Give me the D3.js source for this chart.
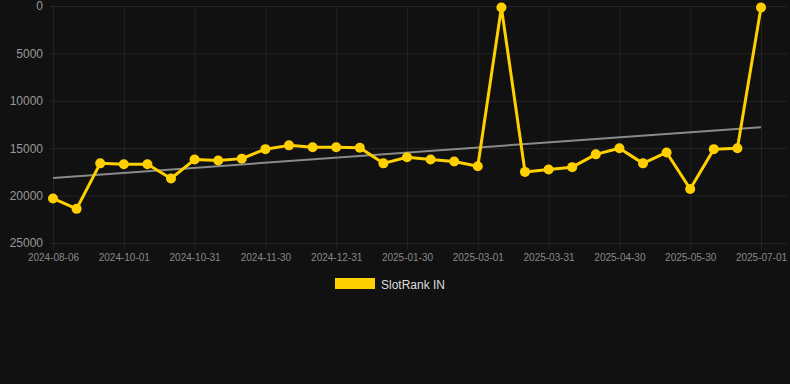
<!DOCTYPE html>
<html>
<head>
<meta charset="utf-8">
<script src="https://cdn.jsdelivr.net/npm/d3@7"></script>
<style>
  body { margin: 0; background: #111111; }
  svg { display: block; font-family: "Liberation Sans", Arial, sans-serif; }
</style>
</head>
<body>
<svg id="chart" width="790" height="384"></svg>
<script>
const dates = ["2024-08-06","2024-09-11","2024-09-21","2024-10-01","2024-10-11","2024-10-21","2024-10-31","2024-11-10","2024-11-20","2024-11-30",
  "2024-12-10","2024-12-20","2024-12-31","2025-01-10","2025-01-20","2025-01-30","2025-02-09","2025-02-19","2025-03-01","2025-03-11",
  "2025-03-21","2025-03-31","2025-04-10","2025-04-20","2025-04-30","2025-05-10","2025-05-20","2025-05-30","2025-06-11","2025-06-21","2025-07-01"]
const ranks = [20300,21400,16600,16700,16700,18200,16200,16300,16100,15100,
  14700,14900,14900,14950,16600,15950,16200,16400,16900,150,
  17500,17250,17000,15650,15000,16600,15450,19300,15100,15000,150]
const yTicks = [0,5000,10000,15000,20000,25000]
const seriesName = "SlotRank IN"

const svg = d3.select("#chart")
const gold = "#ffd000"

const x = d3.scalePoint().domain(dates).range([53, 761])
const y = d3.scaleLinear().domain([0, 25000]).range([6, 243])

// y axis + horizontal grid
const yAxis = svg.append("g")
  .attr("transform", "translate(50,0)")
  .call(d3.axisLeft(y).tickValues(yTicks).tickFormat(d3.format("d")).tickSize(-737).tickPadding(7))
yAxis.select(".domain").remove()
yAxis.selectAll(".tick line").attr("stroke", "#262626")
yAxis.selectAll(".tick text").attr("fill", "#999").style("font-size", "12px")

// x axis + vertical grid, labels every third point
const xAxis = svg.append("g")
  .attr("transform", "translate(0,250)")
  .call(d3.axisBottom(x).tickValues(dates.filter((d, i) => i % 3 == 0)).tickSize(-244).tickPadding(4))
xAxis.select(".domain").remove()
xAxis.selectAll(".tick line").attr("stroke", "#222")
xAxis.selectAll(".tick text").attr("fill", "#888").style("font-size", "10px")

// least squares trend line
const n = ranks.length
const mx = d3.mean(ranks, (d, i) => i), my = d3.mean(ranks)
const slope = d3.sum(ranks, (d, i) => (i - mx) * (d - my)) / d3.sum(ranks, (d, i) => (i - mx) * (i - mx))
const trend = [0, n - 1].map(i => [i, my + slope * (i - mx)])
svg.append("line")
  .attr("x1", x(dates[trend[0][0]])).attr("y1", y(trend[0][1]))
  .attr("x2", x(dates[trend[1][0]])).attr("y2", y(trend[1][1]))
  .attr("stroke", "#8a8a8a").attr("stroke-width", 2)

const line = d3.line().x((d, i) => x(dates[i])).y(d => y(d))
svg.append("path").datum(ranks)
  .attr("d", line)
  .attr("fill", "none").attr("stroke", gold).attr("stroke-width", 3).attr("stroke-linejoin", "round")

svg.append("g").selectAll("circle").data(ranks)
  .enter().append("circle")
    .attr("cx", (d, i) => x(dates[i]))
    .attr("cy", d => y(d))
    .attr("r", 5)
    .attr("fill", gold)

// legend
const legend = svg.append("g").attr("transform", "translate(335,278)")
legend.append("rect").attr("width", 40).attr("height", 11).attr("fill", gold)
legend.append("text").attr("x", 46).attr("y", 10.5).text(seriesName)
  .attr("fill", "#ddd").style("font-size", "12px")
</script>
</body>
</html>
